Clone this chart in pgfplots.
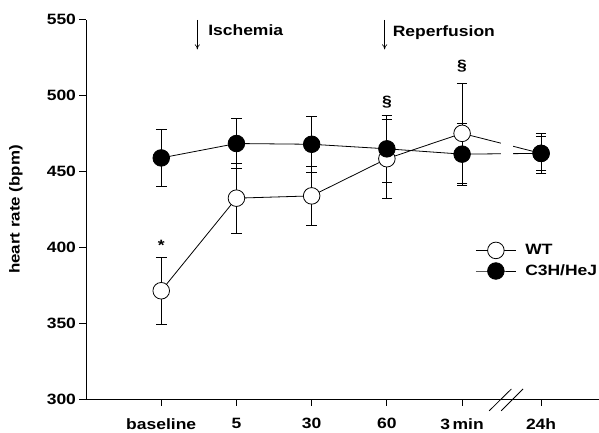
\documentclass[border=0pt]{standalone}
\usepackage{fontspec}
\setmainfont{Liberation Sans}[FakeStretch=1.17]
\usepackage{pgfplots}
\pgfplotsset{compat=1.18}
\usetikzlibrary{arrows.meta}

\begin{document}
\begin{tikzpicture}
\begin{axis}[
  scale only axis,
  width=513bp, height=379.5bp,
  xmin=0, xmax=6.82, ymin=300, ymax=550,
  axis x line*=bottom, axis y line*=left,
  axis line style={-, line width=0.9pt},
  tick align=outside, major tick length=6.5bp,
  tick style={line width=0.9pt, black},
  xtick={1,2,3,4,5,6.05},
  xticklabels={baseline,5,30,60,3\,min,24h},
  xticklabel style={yshift=-9bp},
  ytick={300,350,...,550},
  /pgf/number format/assume math mode=true,
  ticklabel style={font=\fontsize{15}{18}\selectfont\bfseries},
  ylabel={heart rate (bpm)},
  ylabel style={font=\fontsize{14.5}{16}\selectfont\bfseries,
    at={(axis description cs:-0.1365,0.5)}, anchor=center},
  clip=false,
  legend style={draw=none, fill=none, at={(0.753,0.42)}, anchor=north west,
    font=\fontsize{15}{18}\selectfont\bfseries, row sep=4bp,
    /tikz/every odd column/.append style={column sep=7bp}},
  legend cell align=left,
  legend image code/.code={\draw[mark repeat=2,mark phase=2,#1]
    plot coordinates {(0bp,0bp) (20bp,0bp) (40bp,0bp)};},
  every axis plot/.append style={line width=0.8pt, black},
  error bars/error bar style={line width=0.9pt},
  error bars/error mark options={rotate=90, mark size=5.3bp, line width=0.9pt},
]
\coordinate (O) at (rel axis cs:0,0);

% WT
\addplot[mark=*, mark size=8.3bp, mark options={fill=white, draw=black},
  error bars/.cd, y dir=both, y explicit]
  coordinates {
    (1,371.5) +- (0,22)
    (2,432.5) +- (0,23)
    (3,434) +- (0,19.5)
    (4,458.5) +- (0,26)
    (5,475.2) +- (0,33)
    (6.05,462) +- (0,13)
  };
\addlegendentry{WT}

% C3H/HeJ
\addplot[mark=*, mark size=8.3bp, mark options={fill=black, draw=black},
  error bars/.cd, y dir=both, y explicit]
  coordinates {
    (1,459) +- (0,18.5)
    (2,468.5) +- (0,16.3)
    (3,468) +- (0,18.5)
    (4,465) +- (0,22)
    (5,461.5) +- (0,20.5)
    (6.05,462) +- (0,11)
  };
\addlegendentry{C3H/HeJ}

% gap in the lines at the axis break
\fill[white] (axis cs:5.52,455) rectangle (axis cs:5.67,472);
% axis break marks
\draw[line width=0.8pt] (axis cs:5.36,292.4) -- (axis cs:5.655,306.8);
\draw[line width=0.8pt] (axis cs:5.52,292.4) -- (axis cs:5.81,306.8);

% event arrows
\draw[-{To[length=5bp,width=5bp]}, line width=0.6pt] (axis cs:1.48,550) -- (axis cs:1.48,530.5);
\draw[-{To[length=5bp,width=5bp]}, line width=0.6pt] (axis cs:3.97,550) -- (axis cs:3.97,530.5);
\node[anchor=base west, inner sep=0, font=\fontsize{15}{18}\selectfont\bfseries]
  at (axis cs:1.623,539.5) {Ischemia};
\node[anchor=base west, inner sep=0, font=\fontsize{15}{18}\selectfont\bfseries]
  at (axis cs:4.077,539.3) {Reperfusion};

% significance marks
\node[anchor=base, inner sep=0, font=\fontsize{15}{18}\selectfont\bfseries]
  at (axis cs:1,397.9) {*};
\node[anchor=center, inner sep=0, font=\fontsize{15}{18}\selectfont\bfseries]
  at (axis cs:4,496) {§};
\node[anchor=center, inner sep=0, font=\fontsize{15}{18}\selectfont\bfseries]
  at (axis cs:5,519.4) {§};
\end{axis}
\pgfresetboundingbox
\useasboundingbox (O) ++(-86bp,-33.7bp) rectangle ++(599bp,433bp);
\end{tikzpicture}
\end{document}
